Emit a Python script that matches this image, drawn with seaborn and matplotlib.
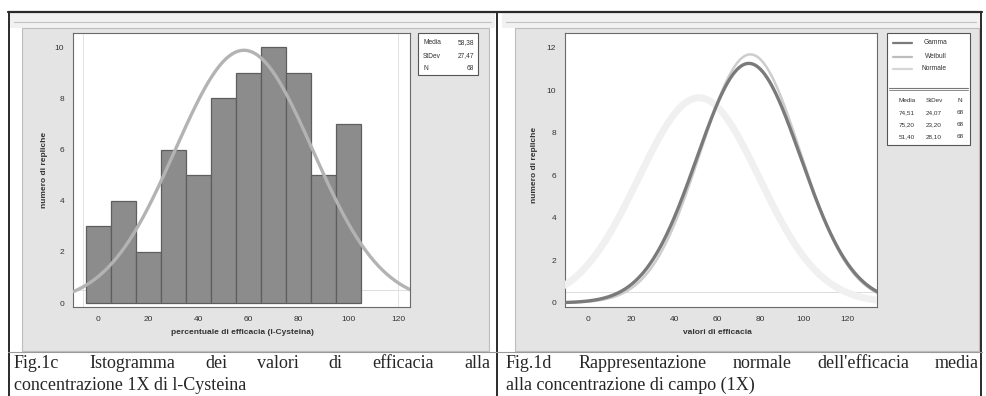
import numpy as np
import pandas as pd
import matplotlib
matplotlib.use("Agg")
import matplotlib.pyplot as plt
from matplotlib.patches import Rectangle
from matplotlib.lines import Line2D
import seaborn as sns

# ---- Fig.1c: replicates per efficacy class (class width 10) ----
bin_centers = [0, 10, 20, 30, 40, 50, 60, 70, 80, 90, 100]
bin_counts = [3, 4, 2, 6, 5, 8, 9, 10, 9, 5, 7]
bin_width = 10
hist_mean, hist_sd, hist_n = 58.38, 27.47, 68

# ---- Fig.1d: fitted normal curves ----
curve_names = ["Gamma", "Weibull", "Normale"]
curve_means = [74.51, 75.20, 51.40]
curve_sds = [24.07, 23.20, 28.10]
curve_n = [68, 68, 68]

x_ticks = [0, 20, 40, 60, 80, 100, 120]
left_y_ticks = [0, 2, 4, 6, 8, 10]
right_y_ticks = [0, 2, 4, 6, 8, 10, 12]

caption_left = ["Fig.1c  Istogramma dei valori di efficacia alla",
                "concentrazione 1X di l-Cysteina"]
caption_right = ["Fig.1d  Rappresentazione normale dell'efficacia media",
                 "alla concentrazione di campo (1X)"]

sns.set_theme(style="white")
plt.rcParams["font.family"] = ["Liberation Sans", "DejaVu Sans"]

W, H = 986, 396
fig = plt.figure(figsize=(W / 100, H / 100), dpi=100)
fig.patch.set_facecolor("white")


def prect(x0, y0, x1, y1, **kw):
    r = Rectangle((x0 / W, 1 - y1 / H), (x1 - x0) / W, (y1 - y0) / H,
                  transform=fig.transFigure, **kw)
    fig.add_artist(r)
    return r


def pline(xs, ys, **kw):
    ln = Line2D([x / W for x in xs], [1 - y / H for y in ys],
                transform=fig.transFigure, **kw)
    fig.add_artist(ln)
    return ln


def ptext(x, y, s, **kw):
    return fig.text(x / W, 1 - y / H, s, **kw)


def pdf_curve(mean, sd, n, xs):
    return n * bin_width * np.exp(-0.5 * ((xs - mean) / sd) ** 2) / (sd * np.sqrt(2 * np.pi))


# graph frames (light strip on top, grey body)
for gx0, gx1, sx0, sx1 in [(22, 489, 10, 495), (515, 979, 502, 980)]:
    prect(sx0, 13, sx1, 28, facecolor="#f1f1f1", edgecolor="none", zorder=0)
    pline([sx0 + 4, sx1 - 4], [22, 22], color="#c4c4c4", lw=0.8, zorder=1)
    prect(gx0, 28, gx1, 351, facecolor="#e4e4e4", edgecolor="#bdbdbd", lw=0.8, zorder=0)

# table borders of the page
pline([8, 982], [12, 12], color="#2a2a2a", lw=1.6, zorder=5)
for xv in [9, 497, 981]:
    pline([xv, xv], [12, 396], color="#2a2a2a", lw=1.4, zorder=5)
pline([8, 982], [352, 352], color="#9a9a9a", lw=0.8, zorder=5)

tick_kw = dict(labelsize=6, colors="#333333", length=3, width=0.7, direction="out")

# ---------------- left panel: histogram ----------------
axL = fig.add_axes([73 / W, 1 - 307 / H, (410 - 73) / W, (307 - 33) / H])
axL.set_facecolor("white")
df_hist = pd.DataFrame({"efficacia": bin_centers, "repliche": bin_counts})
lo = bin_centers[0] - bin_width / 2
hi = bin_centers[-1] + bin_width / 2
sns.histplot(data=df_hist, x="efficacia", weights="repliche",
             binwidth=bin_width, binrange=(lo, hi),
             color="#8c8c8c", edgecolor="#5e5e5e", linewidth=0.9, alpha=1.0,
             ax=axL, zorder=3)
xs = np.linspace(-10, 125, 400)
sns.lineplot(x=xs, y=pdf_curve(hist_mean, hist_sd, hist_n, xs), ax=axL,
             color="#b3b3b3", lw=2.4, zorder=4)
axL.set_xlim(-10, 124.8)
axL.set_ylim(-0.15, 10.55)
axL.set_xticks(x_ticks)
axL.set_yticks(left_y_ticks)
axL.tick_params(**tick_kw)
axL.set_xlabel("")
axL.set_ylabel("")
for sp in axL.spines.values():
    sp.set_color("#6a6a6a")
    sp.set_linewidth(0.8)
# data-region guides
axL.axhline(0.5, color="#dcdcdc", lw=0.7, zorder=1)
axL.axvline(-6, color="#e2e2e2", lw=0.7, zorder=1)
axL.axvline(120, color="#e2e2e2", lw=0.7, zorder=1)

ptext(242, 333, "percentuale di efficacia (l-Cysteina)", ha="center", va="center",
      fontsize=6, fontweight="bold", color="#333333")
ptext(45, 170, "numero di repliche", ha="center", va="center", rotation=90,
      fontsize=6, fontweight="bold", color="#333333")

# left legend box
prect(418, 33, 478, 75, facecolor="white", edgecolor="#555555", lw=0.8, zorder=6)
for yy, lab, val in [(43, "Media", f"{hist_mean:.2f}".replace(".", ",")),
                     (56, "StDev", f"{hist_sd:.2f}".replace(".", ",")),
                     (68, "N", f"{hist_n}")]:
    ptext(423, yy, lab, ha="left", va="center", fontsize=4.8, color="#333333", zorder=7)
    ptext(474, yy, val, ha="right", va="center", fontsize=4.8, color="#333333", zorder=7)

# ---------------- right panel: fitted curves ----------------
axR = fig.add_axes([565 / W, 1 - 307 / H, (877 - 565) / W, (307 - 33) / H])
axR.set_facecolor("white")
xs2 = np.linspace(-11, 134, 500)
curve_styles = [dict(color="#7a7a7a", lw=2.4, zorder=5),
                dict(color="#cdcdcd", lw=1.8, zorder=4),
                dict(color="#f0f0f0", lw=5.0, zorder=3)]
for name, m, s, n, st in zip(curve_names, curve_means, curve_sds, curve_n, curve_styles):
    sns.lineplot(x=xs2, y=pdf_curve(m, s, n, xs2), ax=axR, **st)
axR.set_xlim(-10.7, 133.9)
axR.set_ylim(-0.19, 12.7)
axR.set_xticks(x_ticks)
axR.set_yticks(right_y_ticks)
axR.tick_params(**tick_kw)
axR.set_xlabel("")
axR.set_ylabel("")
for sp in axR.spines.values():
    sp.set_color("#6a6a6a")
    sp.set_linewidth(0.8)
axR.axhline(0.5, color="#dcdcdc", lw=0.7, zorder=1)

ptext(717, 333, "valori di efficacia", ha="center", va="center",
      fontsize=6, fontweight="bold", color="#333333")
ptext(535, 165, "numero di repliche", ha="center", va="center", rotation=90,
      fontsize=6, fontweight="bold", color="#333333")

# right legend: line samples + parameter table
prect(887, 33, 970, 145, facecolor="white", edgecolor="#555555", lw=0.8, zorder=6)
pline([889, 968], [88, 88], color="#777777", lw=0.8, zorder=7)
pline([889, 968], [90, 90], color="#777777", lw=0.6, zorder=7)
sample_colors = ["#7a7a7a", "#bdbdbd", "#d6d6d6"]
for yy, name, col in zip([43, 57, 69], curve_names, sample_colors):
    pline([893, 912], [yy, yy], color=col, lw=1.6, zorder=7)
    ptext(947, yy, name, ha="right", va="center", fontsize=4.8, color="#333333", zorder=7)
cols_x = [907, 934, 960]
for cx, head in zip(cols_x, ["Media", "StDev", "N"]):
    ptext(cx, 100, head, ha="center", va="center", fontsize=4.6, color="#333333", zorder=7)
for yy, m, s, n in zip([113, 125, 137], curve_means, curve_sds, curve_n):
    for cx, v in zip(cols_x, [f"{m:.2f}".replace(".", ","), f"{s:.2f}".replace(".", ","), f"{n}"]):
        ptext(cx, yy, v, ha="center", va="center", fontsize=4.6, color="#333333", zorder=7)

# ---------------- captions (first line justified) ----------------
cap_kw = dict(fontsize=13, color="#262626", family=["Liberation Serif", "DejaVu Serif"],
              va="center")
renderer = fig.canvas.get_renderer()


def justified(line, x0, x1, y):
    words = line.split()
    arts = [ptext(0, y, w, ha="left", **cap_kw) for w in words]
    widths = [a.get_window_extent(renderer).width for a in arts]
    gap = (x1 - x0 - sum(widths)) / (len(words) - 1)
    x = x0
    for a, w in zip(arts, widths):
        a.set_x(x / W)
        x += w + gap


justified(caption_left[0], 14, 490, 363)
ptext(14, 385, caption_left[1], ha="left", **cap_kw)
justified(caption_right[0], 506, 979, 363)
ptext(506, 385, caption_right[1], ha="left", **cap_kw)

fig.savefig("out.png", dpi=100)
